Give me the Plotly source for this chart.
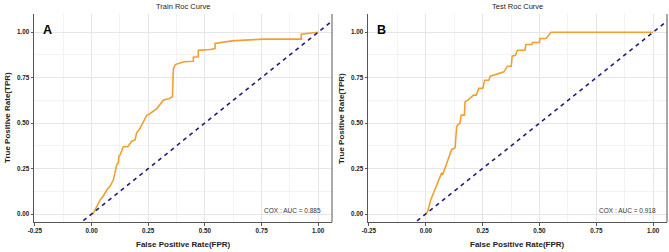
import plotly.graph_objects as go

# ---- data ----
train_fpr = [0.0, 0.008, 0.015, 0.023, 0.038, 0.052, 0.067, 0.082, 0.096, 0.111, 0.118, 0.121, 0.126,
             0.140, 0.148, 0.155, 0.160, 0.177, 0.192, 0.199, 0.214, 0.221, 0.229, 0.244, 0.251, 0.273,
             0.288, 0.317, 0.324, 0.342, 0.357, 0.361, 0.370, 0.390, 0.410, 0.449, 0.449, 0.471, 0.471,
             0.523, 0.545, 0.545, 0.619, 0.758, 0.925, 0.925, 0.964, 1.0]
train_tpr = [0.0, 0.004, 0.022, 0.044, 0.077, 0.099, 0.132, 0.154, 0.187, 0.269, 0.282, 0.319, 0.324,
             0.37, 0.37, 0.37, 0.37, 0.40, 0.407, 0.447, 0.471, 0.489, 0.51, 0.544, 0.546, 0.564,
             0.58, 0.626, 0.63, 0.634, 0.645, 0.80, 0.822, 0.830, 0.837, 0.840, 0.862, 0.865, 0.90,
             0.905, 0.91, 0.938, 0.952, 0.962, 0.962, 0.989, 0.996, 1.0]

test_fpr = [0.0, 0.008, 0.022, 0.040, 0.059, 0.070, 0.074, 0.092, 0.111, 0.114, 0.126, 0.129, 0.136,
            0.140, 0.150, 0.156, 0.163, 0.170, 0.173, 0.185, 0.210, 0.222, 0.233, 0.251, 0.259, 0.277,
            0.284, 0.314, 0.344, 0.359, 0.376, 0.380, 0.395, 0.403, 0.437, 0.440, 0.467, 0.470, 0.500,
            0.502, 0.529, 0.551, 0.996, 1.0]
test_tpr = [0.0, 0.013, 0.077, 0.136, 0.187, 0.227, 0.214, 0.278, 0.342, 0.355, 0.361, 0.364, 0.48,
            0.489, 0.498, 0.544, 0.544, 0.544, 0.617, 0.626, 0.654, 0.654, 0.691, 0.691, 0.736, 0.736,
            0.758, 0.769, 0.782, 0.813, 0.813, 0.868, 0.874, 0.901, 0.901, 0.932, 0.932, 0.943, 0.943,
            0.965, 0.965, 1.0, 1.0, 1.0]

diag = [-1.0, 2.0]
x_ticks = [-0.25, 0.0, 0.25, 0.5, 0.75, 1.0]
x_tick_text = ["-0.25", "0.00", "0.25", "0.50", "0.75", "1.00"]
y_ticks = [0.0, 0.25, 0.5, 0.75, 1.0]
y_tick_text = ["0.00", "0.25", "0.50", "0.75", "1.00"]
titles = ["Train Roc Curve", "Test Roc Curve"]
panel_letters = ["A", "B"]
auc_labels = ["COX : AUC = 0.885", "COX : AUC = 0.918"]
x_title = "False Positive Rate(FPR)"
y_title = "True Positive Rate(TPR)"

W, H = 669, 252
ORANGE = "#F0A033"
NAVY = "#1F1F78"
FONT = "Liberation Sans, Arial, sans-serif"

fig = go.Figure()
x_domains = [[34 / W, 332 / W], [368 / W, 667 / W]]
y_domain = [1 - 222 / H, 1 - 14 / H]

series = [(train_fpr, train_tpr), (test_fpr, test_tpr)]
for i, (fx, ty) in enumerate(series):
    xa = "x" if i == 0 else "x2"
    ya = "y" if i == 0 else "y2"
    fig.add_trace(go.Scatter(x=fx, y=ty, mode="lines", line=dict(color=ORANGE, width=1.6),
                             xaxis=xa, yaxis=ya, showlegend=False, hoverinfo="skip"))
    fig.add_trace(go.Scatter(x=diag, y=diag, mode="lines",
                             line=dict(color=NAVY, width=1.6, dash="4px,4px"),
                             xaxis=xa, yaxis=ya, showlegend=False, hoverinfo="skip"))

axis_common = dict(showgrid=True, gridcolor="#E6E6E6", gridwidth=0.8, zeroline=False,
                   showline=True, linecolor="#555555", linewidth=1, automargin=False,
                   ticks="outside", ticklen=2.5, tickcolor="#555555", tickwidth=1,
                   tickfont=dict(family=FONT, size=6.3, color="#222222", weight="bold"))

layout = dict(width=W, height=H, margin=dict(l=0, r=0, t=0, b=0, autoexpand=False),
              plot_bgcolor="white", paper_bgcolor="white", showlegend=False)
for i in range(2):
    s = "" if i == 0 else "2"
    layout["xaxis" + s] = dict(axis_common, domain=x_domains[i], range=[-0.254, 1.061],
                               tickvals=x_ticks, ticktext=x_tick_text, anchor="y" + s,
                               minor=dict(showgrid=True, gridcolor="#F3F3F3", gridwidth=0.6,
                                          tickvals=[-0.125, 0.125, 0.375, 0.625, 0.875], ticks=""))
    layout["yaxis" + s] = dict(axis_common, domain=y_domain, range=[-0.044, 1.1],
                               tickvals=y_ticks, ticktext=y_tick_text, anchor="x" + s,
                               minor=dict(showgrid=True, gridcolor="#F3F3F3", gridwidth=0.6,
                                          tickvals=[0.125, 0.375, 0.625, 0.875], ticks=""))
fig.update_layout(**layout)

ann = []
shapes = []
for i in range(2):
    s = "" if i == 0 else "2"
    cx = (x_domains[i][0] + x_domains[i][1]) / 2
    cy = (y_domain[0] + y_domain[1]) / 2
    ann.append(dict(text=titles[i], x=cx, y=1 - 6.5 / H, xref="paper", yref="paper",
                    showarrow=False, font=dict(family=FONT, size=7.5, color="#222222"),
                    xanchor="center", yanchor="middle"))
    ann.append(dict(text="<b>" + x_title + "</b>", x=cx, y=1 - 244.5 / H, xref="paper", yref="paper",
                    showarrow=False, font=dict(family=FONT, size=8, color="#222222"),
                    xanchor="center", yanchor="middle"))
    ann.append(dict(text="<b>" + y_title + "</b>", x=x_domains[i][0] - 27 / W, y=cy,
                    xref="paper", yref="paper", textangle=-90,
                    showarrow=False, font=dict(family=FONT, size=8, color="#222222"),
                    xanchor="center", yanchor="middle"))
    ann.append(dict(text="<b>" + panel_letters[i] + "</b>", x=-0.193, y=1.01,
                    xref="x" + s, yref="y" + s, showarrow=False,
                    font=dict(family=FONT, size=12.5, color="black"),
                    xanchor="center", yanchor="middle"))
    ann.append(dict(text=auc_labels[i], x=1.02, y=0.02, xref="x" + s, yref="y" + s,
                    showarrow=False, font=dict(family=FONT, size=6.5, color="#333333"),
                    xanchor="right", yanchor="middle"))
    shapes.append(dict(type="line", xref=("x" + s) + " domain", yref=("y" + s) + " domain",
                       x0=1, x1=1, y0=0, y1=1, line=dict(color="#555555", width=1)))
fig.update_layout(annotations=ann, shapes=shapes)

fig.write_html("out.html", config={"displayModeBar": False},
               post_script="document.body.style.margin='0px';document.body.style.overflow='hidden';")
